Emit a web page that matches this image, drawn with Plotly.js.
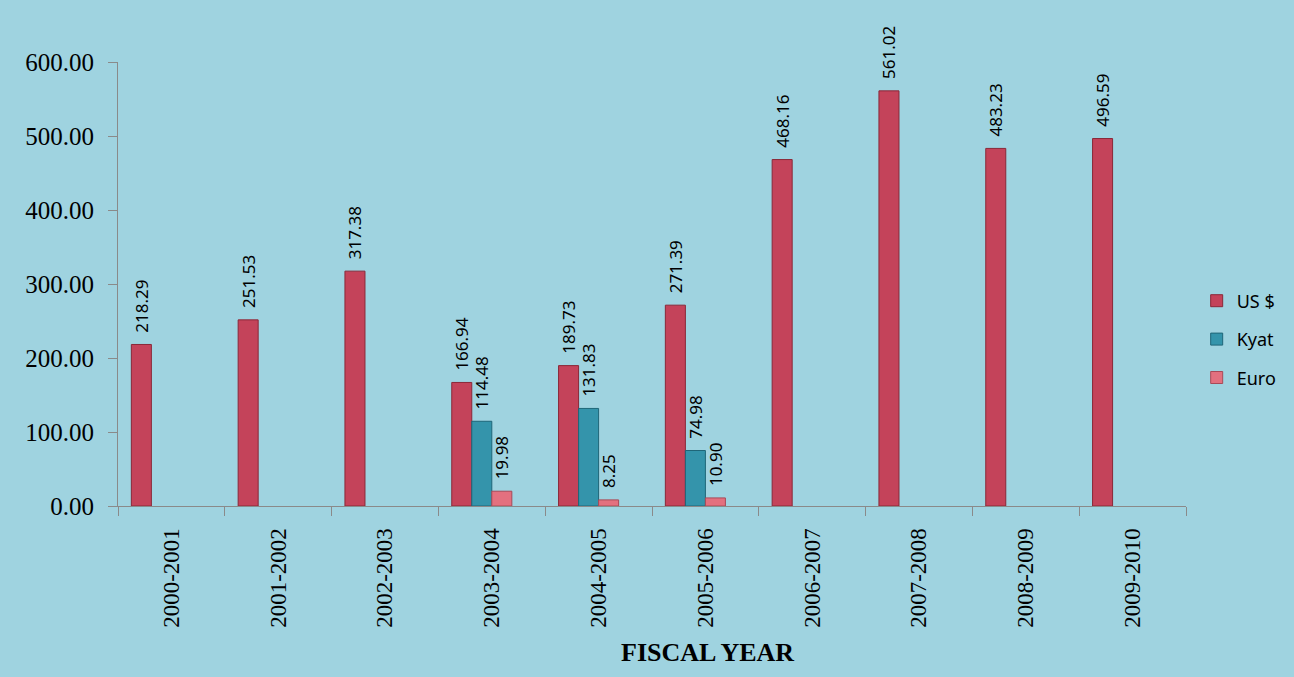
<!DOCTYPE html>
<html>
<head>
<meta charset="utf-8">
<script src="https://cdn.plot.ly/plotly-3.0.1.min.js"></script>
<style>
  html, body { margin: 0; padding: 0; background: #9fd3e0; }
  #chart { width: 1294px; height: 677px; }
</style>
</head>
<body>
<div id="chart"></div>
<script>
const years = ["2000-2001","2001-2002","2002-2003","2003-2004","2004-2005","2005-2006","2006-2007","2007-2008","2008-2009","2009-2010"];
const usd  = [218.29, 251.53, 317.38, 166.94, 189.73, 271.39, 468.16, 561.02, 483.23, 496.59];
const kyat = [null, null, null, 114.48, 131.83, 74.98, null, null, null, null];
const euro = [null, null, null, 19.98, 8.25, 10.90, null, null, null, null];
const blank = [null, null, null, null, null, null, null, null, null, null];
const yTicks = [0, 100, 200, 300, 400, 500, 600];

const labelFont = {family: "Noto Sans, Liberation Sans, sans-serif", size: 17, color: "#000"};

function barTrace(name, vals, color, lineColor, showLegend, group) {
  return {
    type: "bar",
    name: name,
    legendgroup: group,
    x: years,
    y: vals,
    marker: {color: color, line: {color: lineColor, width: 1}},
    text: vals.map(v => v == null ? "" : "\u00a0\u00a0" + v.toFixed(2)),
    textposition: "outside",
    textangle: -90,
    constraintext: "none",
    textfont: labelFont,
    cliponaxis: false,
    showlegend: showLegend,
    hoverinfo: showLegend ? "x+y+name" : "skip"
  };
}

const data = [
  barTrace("US $", usd, "#c4435a", "#8a2838", true, "g1"),
  barTrace("Kyat", kyat, "#3494ab", "#1f6678", true, "g2"),
  barTrace("Euro", euro, "#e3707f", "#a84a58", true, "g3"),
  barTrace("", blank, "rgba(0,0,0,0)", "rgba(0,0,0,0)", false, "g4")
];

const layout = {
  width: 1294,
  height: 677,
  paper_bgcolor: "#9fd3e0",
  plot_bgcolor: "#9fd3e0",
  margin: {l: 118, r: 108, t: 62, b: 171},
  barmode: "group",
  bargap: 0.25,
  bargroupgap: 0,
  font: {family: "Liberation Serif, Times New Roman, serif", color: "#000"},
  xaxis: {
    type: "category",
    showline: true,
    linecolor: "#8a8a8a",
    linewidth: 1,
    ticks: "outside",
    tickson: "boundaries",
    ticklen: 9,
    tickcolor: "#8a8a8a",
    tickangle: -90,
    ticklabelstandoff: 12,
    tickfont: {family: "Liberation Serif, Times New Roman, serif", size: 23, color: "#000"},
    showgrid: false
  },
  yaxis: {
    range: [0, 600],
    tickvals: yTicks,
    ticktext: yTicks.map(v => v.toFixed(2)),
    showline: true,
    linecolor: "#8a8a8a",
    linewidth: 1,
    ticks: "outside",
    ticklen: 9,
    tickcolor: "#8a8a8a",
    ticklabelstandoff: 9,
    tickfont: {family: "Liberation Serif, Times New Roman, serif", size: 25, color: "#000"},
    showgrid: false,
    zeroline: false
  },
  annotations: [{
    text: "<b>FISCAL YEAR</b>",
    xref: "paper", yref: "paper",
    x: 0.5515, y: -0.331,
    xanchor: "center", yanchor: "middle",
    showarrow: false,
    font: {family: "Liberation Serif, Times New Roman, serif", size: 26, color: "#000"}
  }],
  legend: {
    x: 1.01,
    xanchor: "left",
    y: 0.375,
    yanchor: "middle",
    bgcolor: "rgba(0,0,0,0)",
    font: {family: "Noto Sans, Liberation Sans, sans-serif", size: 18, color: "#000"},
    tracegroupgap: 12
  }
};

Plotly.newPlot("chart", data, layout, {displayModeBar: false, staticPlot: true});
</script>
</body>
</html>
